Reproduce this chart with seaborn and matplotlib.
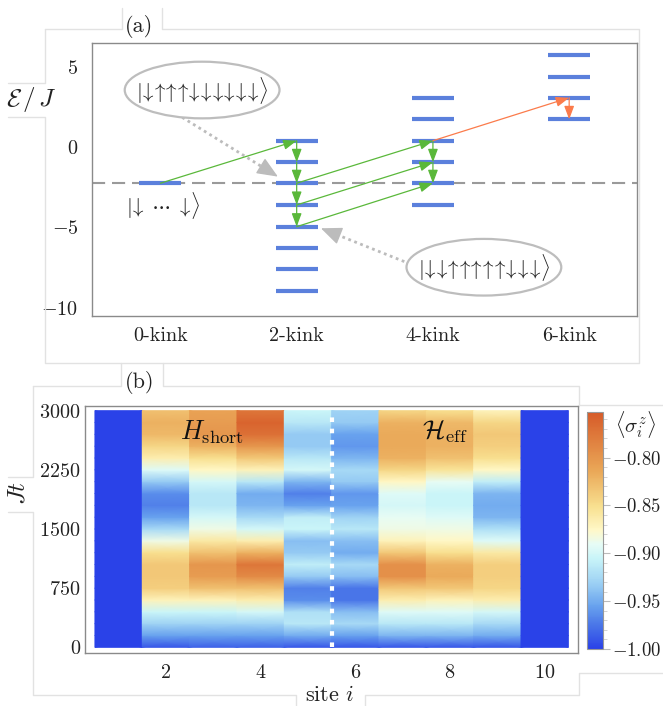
import numpy as np
import pandas as pd
import matplotlib
matplotlib.use("Agg")
import matplotlib.pyplot as plt
import seaborn as sns
from matplotlib.colors import LinearSegmentedColormap
from matplotlib.patches import Ellipse
from matplotlib.lines import Line2D
from matplotlib.ticker import MultipleLocator

# ---------------- data: panel (a) energy levels ----------------
kink_labels = ["0-kink", "2-kink", "4-kink", "6-kink"]
levels_0kink = [-2.25]
levels_2kink = [0.39, -0.95, -2.25, -3.6, -4.95, -6.27, -7.6, -8.94]
levels_4kink = [3.06, 1.72, 0.39, -0.95, -2.25, -3.6]
levels_6kink = [5.71, 4.37, 3.06, 1.72]
ground_energy = -2.25

# transitions (x0, E0, x1, E1)
green_moves = [(0, -2.25, 1, 0.39),
               (1, 0.39, 1, -0.95), (1, -0.95, 1, -2.25),
               (1, -2.25, 1, -3.6), (1, -3.6, 1, -4.95),
               (1, -2.25, 2, 0.39), (1, -3.6, 2, -0.95), (1, -4.95, 2, -2.25),
               (2, 0.39, 2, -0.95), (2, -0.95, 2, -2.25)]
orange_moves = [(2, 0.39, 3, 3.06), (3, 3.06, 3, 1.72)]

# pointers from the bubbles (x0, E0, x1, E1)
pointer_moves = [(0.16, 1.84, 0.862, -1.84), (1.79, -7.12, 1.178, -5.05)]

# spin configurations shown in the bubbles
state_a = "duuudddddd"
state_b = "dduuuuuddd"

# ---------------- data: panel (b) magnetisation vs time ----------------
sites = list(range(1, 11))
times = [0, 150, 300, 450, 600, 750, 900, 1050, 1200, 1350, 1500,
         1650, 1800, 1950, 2100, 2250, 2400, 2550, 2700, 2850, 3000]
site1 = [-1.0] * 21
site2 = [-0.99, -0.955, -0.93, -0.905, -0.87, -0.84, -0.835, -0.835, -0.85, -0.885, -0.925,
         -0.955, -0.97, -0.965, -0.935, -0.895, -0.865, -0.845, -0.825, -0.82, -0.83]
site3 = [-0.985, -0.955, -0.93, -0.905, -0.87, -0.83, -0.805, -0.80, -0.83, -0.86, -0.885,
         -0.90, -0.915, -0.915, -0.90, -0.875, -0.85, -0.82, -0.80, -0.805, -0.81]
site4 = [-0.985, -0.955, -0.93, -0.90, -0.865, -0.83, -0.79, -0.775, -0.82, -0.865, -0.90,
         -0.925, -0.945, -0.95, -0.915, -0.87, -0.835, -0.80, -0.77, -0.76, -0.775]
site5 = [-0.99, -0.95, -0.915, -0.92, -0.965, -0.97, -0.935, -0.91, -0.935, -0.94, -0.905,
         -0.91, -0.955, -0.97, -0.945, -0.90, -0.915, -0.935, -0.935, -0.915, -0.905]
site6 = [-0.99, -0.955, -0.925, -0.94, -0.975, -0.975, -0.94, -0.925, -0.95, -0.94, -0.915,
         -0.93, -0.955, -0.96, -0.935, -0.925, -0.945, -0.96, -0.955, -0.935, -0.93]
site7 = [-0.99, -0.945, -0.915, -0.895, -0.865, -0.835, -0.795, -0.795, -0.835, -0.87, -0.885,
         -0.89, -0.90, -0.895, -0.875, -0.845, -0.82, -0.815, -0.815, -0.82, -0.845]
site8 = [-0.99, -0.945, -0.915, -0.895, -0.87, -0.835, -0.815, -0.82, -0.85, -0.875, -0.885,
         -0.895, -0.905, -0.905, -0.89, -0.855, -0.83, -0.82, -0.82, -0.825, -0.85]
site9 = [-0.99, -0.95, -0.925, -0.90, -0.865, -0.845, -0.84, -0.84, -0.86, -0.895, -0.92,
         -0.945, -0.95, -0.945, -0.91, -0.875, -0.85, -0.84, -0.835, -0.845, -0.87]
site10 = [-1.0] * 21
cbar_ticks = [-1.00, -0.95, -0.90, -0.85, -0.80]

# ---------------- style ----------------
sns.set_style("white")
plt.rcParams["font.family"] = ["cmr10", "DejaVu Serif"]
plt.rcParams["mathtext.fontset"] = "cm"
plt.rcParams["axes.unicode_minus"] = False
text_col = "#222222"
frame_col = "#e2e2e2"

level_blue = "#5b80dc"
green = "#5ab83a"
orange = "#fb7b4b"
pointer_gray = "#bcbcbc"

temp_map = LinearSegmentedColormap.from_list("temperature", [
    (0.00, "#2a42e8"), (0.10, "#4a76e8"), (0.18, "#68a2ee"), (0.28, "#9ed2f4"),
    (0.38, "#c8f4f8"), (0.44, "#e6fcf6"), (0.50, "#fff8c8"), (0.60, "#f8e090"),
    (0.75, "#eaa858"), (1.00, "#d65a28")])

W, H = 663, 706
fig = plt.figure(figsize=(W / 100, H / 100), dpi=100)


def px_box(left, top, right, bottom):
    return [left / W, 1 - bottom / H, (right - left) / W, (bottom - top) / H]


def frame_line(xs, ys):
    fig.add_artist(Line2D([x / W for x in xs], [1 - y / H for y in ys],
                          color=frame_col, lw=1.0, transform=fig.transFigure))


def ket(spins):
    # tightly packed arrows, like the original typesetting
    arrows = r"\!\!".join(r"\downarrow" if c == "d" else r"\uparrow" for c in spins)
    return r"$|\!" + arrows + r"\!\rangle$"


# ---------------- panel (a) ----------------
ax1 = fig.add_axes(px_box(92.3, 42.7, 637.3, 316))
level_df = pd.DataFrame({
    "kink": [0] * len(levels_0kink) + [1] * len(levels_2kink)
            + [2] * len(levels_4kink) + [3] * len(levels_6kink),
    "energy": levels_0kink + levels_2kink + levels_4kink + levels_6kink})

ax1.axhline(ground_energy, color="#9a9a9a", lw=1.5, dashes=(6.3, 3.3), zorder=1)
sns.scatterplot(data=level_df, x="kink", y="energy", marker="_", s=940,
                color=level_blue, edgecolor=level_blue, linewidth=3.0,
                ax=ax1, zorder=3, legend=False)

for moves, col in [(green_moves, green), (orange_moves, orange)]:
    for (x0, y0, x1, y1) in moves:
        ax1.annotate("", xy=(x1, y1), xytext=(x0, y0),
                     arrowprops=dict(arrowstyle="-|>,head_length=0.8,head_width=0.3",
                                     mutation_scale=10, color=col, lw=0.9,
                                     shrinkA=0, shrinkB=0), zorder=4)

# gray dotted pointers: dotted shaft plus a solid head
for (x0, y0, x1, y1) in pointer_moves:
    xm, ym = x0 + 0.85 * (x1 - x0), y0 + 0.85 * (y1 - y0)
    ax1.plot([x0, xm], [y0, ym], color=pointer_gray, lw=2.0,
             linestyle=(0, (1.0, 1.3)), zorder=2)
    ax1.annotate("", xy=(x1, y1), xytext=(xm, ym),
                 arrowprops=dict(arrowstyle="-|>,head_length=1.3,head_width=0.55",
                                 mutation_scale=10, color=pointer_gray, lw=1.0,
                                 shrinkA=0, shrinkB=0), zorder=2)

for (cx, cy) in [(0.306, 3.54), (2.374, -7.47)]:
    ax1.add_patch(Ellipse((cx, cy), 1.136, 3.52, facecolor="white",
                          edgecolor="#bdbdbd", lw=1.6, zorder=5))
ax1.text(0.306, 3.54, ket(state_a), ha="center", va="center",
         fontsize=15, color=text_col, zorder=6)
ax1.text(2.374, -7.47, ket(state_b), ha="center", va="center",
         fontsize=15, color=text_col, zorder=6)
ax1.text(0.02, -3.66, r"$|\!\downarrow\;\cdots\;\downarrow\!\rangle$",
         ha="center", va="center", fontsize=15, color=text_col)

ax1.set_xlim(-0.5, 3.5)
ax1.set_ylim(-10.5, 6.48)
ax1.set_xticks(range(4))
ax1.set_xticklabels(kink_labels)
ax1.set_yticks([-10, -5, 0, 5])
ax1.set_yticklabels([r"$-10$", r"$-5$", r"$0$", r"$5$"])
ax1.set_xlabel("")
ax1.set_ylabel("")
ax1.tick_params(axis="both", direction="in", length=4, color="#999999",
                labelsize=14.5, labelcolor=text_col)
ax1.tick_params(axis="y", pad=10)
ax1.tick_params(axis="x", pad=8)
for sp in ax1.spines.values():
    sp.set_color("#8a8a8a")
    sp.set_linewidth(1.0)

# ---------------- panel (b) ----------------
ax2 = fig.add_axes(px_box(85, 405.7, 578.3, 652.7))
mag = pd.DataFrame(np.array([site1, site2, site3, site4, site5, site6,
                             site7, site8, site9, site10]).T,
                   index=times, columns=sites)
vmin, vmax = -1.0, -0.752
t_arr = np.array(times, dtype=float)
for s in sites:
    X = np.column_stack([np.full_like(t_arr, s - 0.5), np.full_like(t_arr, s + 0.5)])
    Y = np.column_stack([t_arr, t_arr])
    C = np.column_stack([mag[s].values, mag[s].values])
    mesh = ax2.pcolormesh(X, Y, C, shading="gouraud", cmap=temp_map,
                          vmin=vmin, vmax=vmax, zorder=1)

ax2.plot([5.5, 5.5], [0, 3000], color="white", lw=3.0,
         linestyle=(0, (1.1, 1.6)), zorder=3)
ax2.text(2.97, 2729, r"$H_{\rm short}$", ha="center", va="center",
         fontsize=19, color="#111111", zorder=4)
ax2.text(7.9, 2729, r"$\mathcal{H}_{\rm eff}$", ha="center", va="center",
         fontsize=19, color="#111111", zorder=4)

ax2.set_xlim(0.29, 10.71)
ax2.set_ylim(-68, 3063)
ax2.set_xticks([2, 4, 6, 8, 10])
ax2.set_xticklabels([r"$2$", r"$4$", r"$6$", r"$8$", r"$10$"])
ax2.set_yticks([0, 750, 1500, 2250, 3000])
ax2.set_yticklabels([r"$0$", r"$750$", r"$1500$", r"$2250$", r"$3000$"])
ax2.tick_params(axis="both", direction="in", length=4, color="#999999",
                labelsize=14.5, labelcolor=text_col)
ax2.tick_params(axis="y", pad=3)
ax2.tick_params(axis="x", pad=8)
for sp in ax2.spines.values():
    sp.set_color("#8a8a8a")
    sp.set_linewidth(1.0)

cax = fig.add_axes(px_box(586.7, 411.7, 602.7, 649))
cb = fig.colorbar(mesh, cax=cax, ticks=cbar_ticks)
cb.ax.set_yticklabels([r"$%.2f$" % v for v in cbar_ticks])
cb.ax.yaxis.set_minor_locator(MultipleLocator(0.01))
cb.ax.tick_params(which="major", length=5, color="#bbbbbb", labelsize=13.5,
                  labelcolor=text_col, pad=2)
cb.ax.tick_params(which="minor", length=3, color="#cccccc")
cb.outline.set_edgecolor("#999999")
cb.outline.set_linewidth(0.8)

# ---------------- labels ----------------
fig.text(31 / W, 1 - 100 / H, r"$\mathcal{E}\,/\,J$", ha="center", va="center",
         fontsize=18, color=text_col)
fig.text(139 / W, 1 - 26 / H, "(a)", ha="center", va="center", fontsize=16, color=text_col)
fig.text(140 / W, 1 - 383 / H, "(b)", ha="center", va="center", fontsize=16, color=text_col)
fig.text(18 / W, 1 - 493 / H, r"$Jt$", ha="center", va="center", rotation=90,
         fontsize=18, color=text_col)
fig.text(330 / W, 1 - 705 / H, r"site $i$", ha="center", va="bottom",
         fontsize=16, color=text_col)
fig.text(636 / W, 1 - 424 / H, r"$\langle\sigma_i^z\rangle$", ha="center", va="center",
         fontsize=15, color=text_col)

# ---------------- panel frames ----------------
frame_line([45, 121.7, 121.7], [29.3, 29.3, 8])
frame_line([162.3, 162.3, 639.3, 639.3, 45, 45, 8], [8, 29.3, 29.3, 363.3, 363.3, 117.3, 117.3])
frame_line([8, 45, 45], [83.3, 83.3, 29.3])
frame_line([32.7, 120.7, 120.7], [386, 386, 363.3])
frame_line([163.3, 163.3, 579, 579, 663], [363.3, 386, 386, 405, 405])
frame_line([663, 579, 579, 364.5, 364.5], [673.3, 673.3, 695, 695, 706])
frame_line([296, 296, 32.7, 32.7, 8], [706, 695, 695, 511.7, 511.7])
frame_line([8, 32.7, 32.7], [476.7, 476.7, 386])

fig.savefig("out.png", dpi=100, facecolor="white")
